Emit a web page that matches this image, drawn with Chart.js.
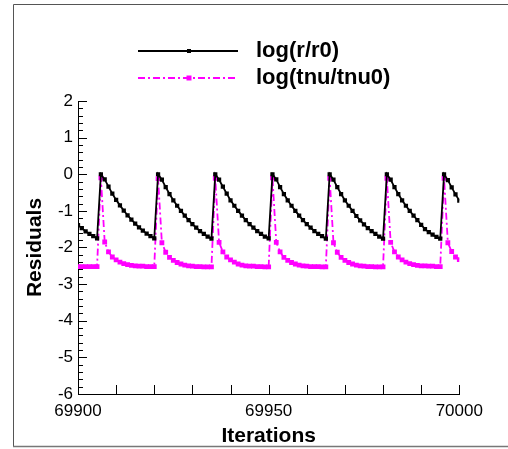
<!DOCTYPE html>
<html>
<head>
<meta charset="utf-8">
<script src="https://cdn.jsdelivr.net/npm/chart.js@4/dist/chart.umd.min.js"></script>
<style>
  html, body { margin: 0; padding: 0; background: #fff; }
  canvas { display: block; }
</style>
</head>
<body>
<canvas id="residuos" width="508" height="449"></canvas>
<script>
// Historial de residuos (iteraciones 69900 - 70000)
const iterations = [
  69900, 69901, 69902, 69903, 69904, 69905, 69906, 69907, 69908, 69909,
  69910, 69911, 69912, 69913, 69914, 69915, 69916, 69917, 69918, 69919,
  69920, 69921, 69922, 69923, 69924, 69925, 69926, 69927, 69928, 69929,
  69930, 69931, 69932, 69933, 69934, 69935, 69936, 69937, 69938, 69939,
  69940, 69941, 69942, 69943, 69944, 69945, 69946, 69947, 69948, 69949,
  69950, 69951, 69952, 69953, 69954, 69955, 69956, 69957, 69958, 69959,
  69960, 69961, 69962, 69963, 69964, 69965, 69966, 69967, 69968, 69969,
  69970, 69971, 69972, 69973, 69974, 69975, 69976, 69977, 69978, 69979,
  69980, 69981, 69982, 69983, 69984, 69985, 69986, 69987, 69988, 69989,
  69990, 69991, 69992, 69993, 69994, 69995, 69996, 69997, 69998, 69999,
  70000
];

const residR = [
  -1.39, -1.47, -1.56, -1.63, -1.69, -1.75,
  0, -0.14, -0.34, -0.53, -0.70, -0.85, -0.99, -1.12, -1.24, -1.35, -1.45, -1.54, -1.62, -1.69, -1.75,
  0, -0.15, -0.35, -0.54, -0.71, -0.86, -1.00, -1.13, -1.25, -1.36, -1.46, -1.55, -1.63, -1.70, -1.76,
  0, -0.15, -0.34, -0.53, -0.71, -0.86, -1.00, -1.13, -1.25, -1.36, -1.46, -1.55, -1.63, -1.70, -1.75,
  0, -0.14, -0.35, -0.54, -0.71, -0.86, -1.00, -1.13, -1.25, -1.36, -1.46, -1.55, -1.63, -1.69, -1.76,
  0, -0.15, -0.35, -0.54, -0.71, -0.86, -1.00, -1.14, -1.26, -1.37, -1.47, -1.55, -1.63, -1.70, -1.76,
  0, -0.15, -0.35, -0.54, -0.71, -0.86, -1.00, -1.13, -1.25, -1.38, -1.50, -1.58, -1.65, -1.71, -1.76,
  0, -0.16, -0.36, -0.55, -0.72
];

const residTnu = [
  -2.52, -2.52, -2.52, -2.52, -2.52, -2.52,
  -0.10, -1.85, -2.12, -2.26, -2.34, -2.40, -2.44, -2.47, -2.49, -2.50, -2.51, -2.51, -2.52, -2.52, -2.52,
  -0.12, -1.87, -2.13, -2.27, -2.35, -2.41, -2.45, -2.48, -2.50, -2.51, -2.52, -2.52, -2.53, -2.53, -2.53,
  -0.11, -1.86, -2.12, -2.26, -2.34, -2.40, -2.45, -2.48, -2.50, -2.51, -2.51, -2.52, -2.52, -2.53, -2.53,
  -0.10, -1.86, -2.12, -2.27, -2.35, -2.41, -2.45, -2.48, -2.50, -2.51, -2.52, -2.52, -2.52, -2.53, -2.53,
  -0.11, -1.87, -2.13, -2.27, -2.35, -2.41, -2.45, -2.48, -2.50, -2.51, -2.52, -2.52, -2.53, -2.53, -2.53,
  -0.11, -1.86, -2.12, -2.26, -2.34, -2.40, -2.44, -2.47, -2.49, -2.50, -2.50, -2.51, -2.51, -2.52, -2.52,
  -0.11, -1.87, -2.11, -2.26, -2.33
];

const seriesNames = ['log(r/r0)', 'log(tnu/tnu0)'];
const yTicks = [-6, -5, -4, -3, -2, -1, 0, 1, 2];
const xTicks = [69900, 69950, 70000];

const FUENTE = "'Liberation Sans', Arial, Helvetica, sans-serif";

// Marco exterior de la figura
const marco = {
  id: 'marco',
  beforeDraw(chart) {
    const ctx = chart.ctx;
    ctx.save();
    ctx.strokeStyle = '#555';
    ctx.lineWidth = 1;
    ctx.beginPath();
    ctx.moveTo(13.5, 447);
    ctx.lineTo(13.5, 4.5);
    ctx.lineTo(508, 4.5);
    ctx.stroke();
    ctx.strokeStyle = '#777';
    ctx.lineWidth = 1.5;
    ctx.beginPath();
    ctx.moveTo(13, 446.5);
    ctx.lineTo(508, 446.5);
    ctx.stroke();
    ctx.restore();
  }
};

// Marcas de los ejes hacia dentro (mayores y menores)
const marcasEjes = {
  id: 'marcasEjes',
  afterDraw(chart) {
    const ctx = chart.ctx;
    const {x, y} = chart.scales;
    const area = chart.chartArea;
    ctx.save();
    ctx.strokeStyle = '#000';
    ctx.lineWidth = 1;
    ctx.beginPath();
    for (let v = -6; v <= 2.0001; v += 0.2) {
      const py = Math.round(y.getPixelForValue(v)) + 0.5;
      const mayor = Math.abs(v - Math.round(v)) < 1e-6;
      ctx.moveTo(area.left, py);
      ctx.lineTo(area.left + (mayor ? 9 : 5), py);
    }
    for (let it = 69900; it <= 70000; it += 10) {
      const px = Math.round(x.getPixelForValue(it)) + 0.5;
      ctx.moveTo(px, area.bottom);
      ctx.lineTo(px, area.bottom - 9);
    }
    ctx.stroke();
    ctx.restore();
  }
};

// Leyenda arriba, fuera del área de trazado
const leyenda = {
  id: 'leyenda',
  afterDraw(chart) {
    const ctx = chart.ctx;
    const filas = [51, 78];
    ctx.save();
    chart.data.datasets.forEach((ds, i) => {
      const yy = filas[i];
      ctx.strokeStyle = ds.borderColor;
      ctx.lineWidth = ds.borderWidth;
      ctx.setLineDash(ds.borderDash || []);
      ctx.beginPath();
      ctx.moveTo(138, yy);
      ctx.lineTo(238, yy);
      ctx.stroke();
      ctx.setLineDash([]);
      ctx.fillStyle = ds.borderColor;
      const s = i === 0 ? 4 : 5;
      ctx.fillRect(189 - s / 2, yy - s / 2, s, s);
      ctx.fillStyle = '#000';
      ctx.font = 'bold 22px ' + FUENTE;
      ctx.textBaseline = 'middle';
      ctx.textAlign = 'left';
      ctx.fillText(ds.label, 256, yy);
    });
    ctx.restore();
  }
};

new Chart(document.getElementById('residuos'), {
  type: 'line',
  data: {
    labels: iterations,
    datasets: [
      {
        label: seriesNames[0],
        data: residR,
        borderColor: '#000000',
        backgroundColor: '#000000',
        borderWidth: 1.8,
        pointStyle: 'rect',
        pointRadius: 3,
        pointBorderWidth: 0,
        tension: 0
      },
      {
        label: seriesNames[1],
        data: residTnu,
        borderColor: '#ff00ff',
        backgroundColor: '#ff00ff',
        borderWidth: 1.8,
        borderDash: [7, 3, 2, 3],
        pointStyle: 'rect',
        pointRadius: 3.4,
        pointBorderWidth: 0,
        tension: 0
      }
    ]
  },
  options: {
    responsive: false,
    animation: false,
    layout: { padding: { top: 101, right: 48.7, left: 0, bottom: 0 } },
    plugins: {
      legend: { display: false },
      tooltip: { enabled: false }
    },
    scales: {
      x: {
        type: 'linear',
        min: 69900,
        max: 70000,
        afterFit: s => { s.height = 55; },
        afterBuildTicks: s => { s.ticks = xTicks.map(v => ({ value: v })); },
        grid: { display: false, drawTicks: false },
        border: { display: true, color: '#000', width: 1 },
        ticks: {
          color: '#000',
          padding: 7,
          maxRotation: 0,
          autoSkip: false,
          font: { family: FUENTE, size: 17 },
          callback: v => String(v)
        },
        title: {
          display: true,
          text: 'Iterations',
          color: '#000',
          padding: { top: 3, bottom: 0 },
          font: { family: FUENTE, size: 21, weight: 'bold' }
        }
      },
      y: {
        min: -6,
        max: 2,
        afterFit: s => { s.width = 78; },
        afterBuildTicks: s => { s.ticks = yTicks.map(v => ({ value: v })); },
        grid: { display: false, drawTicks: false },
        border: { display: true, color: '#000', width: 1 },
        ticks: {
          color: '#000',
          padding: 5,
          autoSkip: false,
          font: { family: FUENTE, size: 17 },
          callback: v => String(v)
        },
        title: {
          display: true,
          text: 'Residuals',
          color: '#000',
          padding: { top: 23, bottom: 0 },
          font: { family: FUENTE, size: 21, weight: 'bold' }
        }
      }
    }
  },
  plugins: [marco, marcasEjes, leyenda]
});
</script>
</body>
</html>
